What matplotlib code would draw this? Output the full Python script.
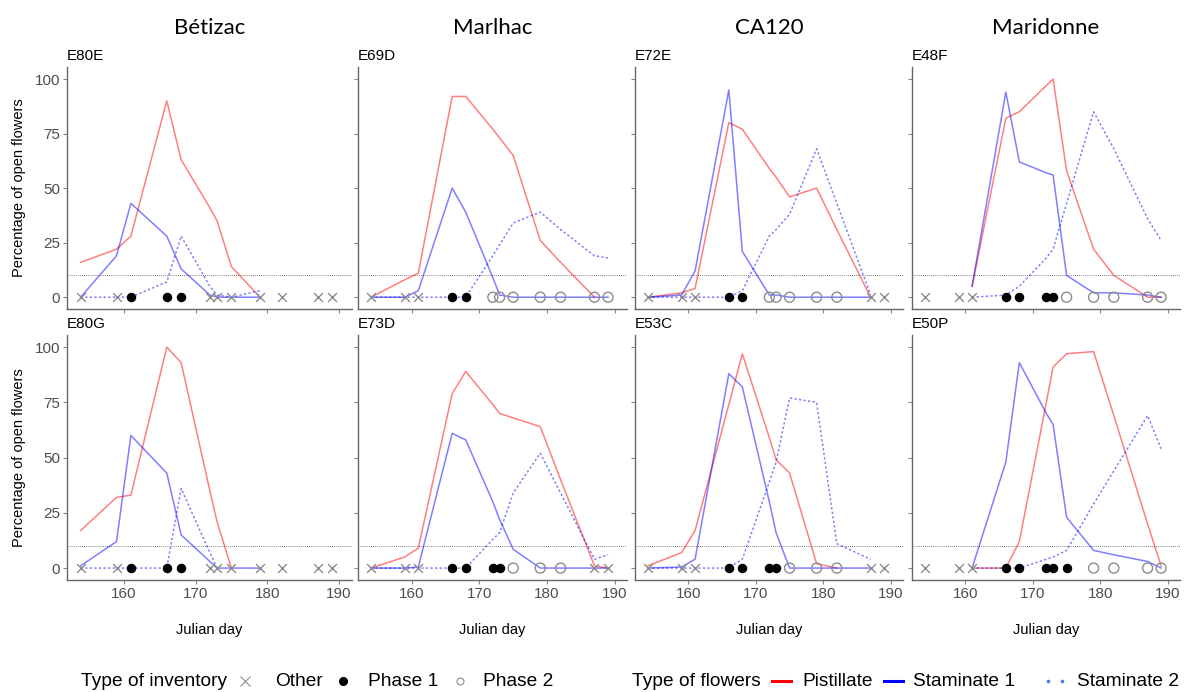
import numpy as np
import matplotlib
matplotlib.use("Agg")
import matplotlib.pyplot as plt
from matplotlib.lines import Line2D

nan = np.nan

days = [154, 159, 161, 166, 168, 172, 173, 175, 179, 182, 187, 189]
cultivars = ["Bétizac", "Marlhac", "CA120", "Maridonne"]
trees_top = ["E80E", "E69D", "E72E", "E48F"]
trees_bottom = ["E80G", "E73D", "E53C", "E50P"]

# inventory type per day: O = other, P1 = phase 1, P2 = phase 2
inv = {
    "E80E": ["O", "O", "P1", "P1", "P1", "O", "O", "O", "O", "O", "O", "O"],
    "E69D": ["O", "O", "O", "P1", "P1", "P2", "P2", "P2", "P2", "P2", "P2", "P2"],
    "E72E": ["O", "O", "O", "P1", "P1", "P2", "P2", "P2", "P2", "P2", "O", "O"],
    "E48F": ["O", "O", "O", "P1", "P1", "P1", "P1", "P2", "P2", "P2", "P2", "P2"],
    "E80G": ["O", "O", "P1", "P1", "P1", "O", "O", "O", "O", "O", "O", "O"],
    "E73D": ["O", "O", "O", "P1", "P1", "P1", "P1", "P2", "P2", "P2", "O", "O"],
    "E53C": ["O", "O", "O", "P1", "P1", "P1", "P1", "P2", "P2", "P2", "O", "O"],
    "E50P": ["O", "O", "O", "P1", "P1", "P1", "P1", "P1", "P2", "P2", "P2", "P2"],
}

pistillate = {
    "E80E": [16, 22, 28, 90, 63, 41, 35, 14, 0, nan, nan, nan],
    "E69D": [0, 8, 11, 92, 92, 77, 73, 65, 26, 16, 0, nan],
    "E72E": [0, 2, 4, 80, 77, 59, 55, 46, 50, 31, 0, nan],
    "E48F": [nan, nan, 5, 82, 85, 97, 100, 58, 22, 10, 0, 0],
    "E80G": [17, 32, 33, 100, 93, 35, 21, 0, nan, nan, nan, nan],
    "E73D": [0, 5, 9, 79, 89, 74, 70, 68, 64, 40, 1, 0],
    "E53C": [1, 7, 17, 74, 97, 59, 49, 43, 2, 0, nan, nan],
    "E50P": [nan, nan, 0, 0, 12, 75, 91, 97, 98, 69, 20, 1],
}

staminate1 = {
    "E80E": [0, 19, 43, 28, 13, 1, 0, 0, 0, nan, nan, nan],
    "E69D": [0, 0, 3, 50, 39, 9, 1, 0, 0, 0, 0, 0],
    "E72E": [0, 1, 12, 95, 21, 1, 1, 0, 0, 0, 0, nan],
    "E48F": [nan, nan, 5, 94, 62, 57, 56, 10, 2, 2, 1, 0],
    "E80G": [1, 12, 60, 43, 15, 3, 0, 0, 0, nan, nan, nan],
    "E73D": [0, 0, 0.5, 61, 58, 30, 22, 8.5, 0, 0, 0, 0],
    "E53C": [0, 0.5, 4, 88, 82, 30, 16, 0, 0, 0, 0, nan],
    "E50P": [nan, nan, 0, 48, 93, 70, 65, 23, 8, 6, 3, 0],
}

staminate2 = {
    "E80E": [0, 0, 0, 7, 28, 5, 1, 0, 3, nan, nan, nan],
    "E69D": [0, 0, 0, 0, 0, 19, 24, 34, 39, 31, 19, 18],
    "E72E": [0, 0, 0, 0, 3, 28, 31, 38, 68, 43, 1, nan],
    "E48F": [nan, nan, 0, 1, 5, 18, 22, 43, 85, 68, 36, 26],
    "E80G": [0, 0, 0, 0, 36, 7, 0, nan, nan, nan, nan, nan],
    "E73D": [0, 0, 0, 0, 0, 13, 16, 34, 52, 34, 4, 6],
    "E53C": [0, 0, 0, 0, 4, 39, 48, 77, 75, 11, 4, nan],
    "E50P": [nan, nan, 0, 0, 0, 4, 5, 8, 29, 44, 69, 54],
}

threshold = 10

inv_labels = ["Other", "Phase 1", "Phase 2"]
flower_labels = ["Pistillate", "Staminate 1", "Staminate 2"]

W, H = 1187, 692
fig = plt.figure(figsize=(W / 100, H / 100), dpi=100)
plt.rcParams["font.family"] = ["Liberation Sans", "DejaVu Sans"]

col_px = [(67, 352), (358, 627), (635, 903), (912, 1180)]
row_px = [(67, 309), (335, 580)]
grey = "#8c8c8c"
tick_col = "#4d4d4d"


def px_axes(x0, x1, y0, y1):
    return fig.add_axes([x0 / W, 1 - y1 / H, (x1 - x0) / W, (y1 - y0) / H])


def draw_panel(ax, tree, first_col, bottom_row):
    x = np.array(days, dtype=float)
    ax.axhline(threshold, color="#555555", lw=0.6, ls=(0, (1, 1.5)), zorder=1)
    p = np.array(pistillate[tree], dtype=float)
    s1 = np.array(staminate1[tree], dtype=float)
    s2 = np.array(staminate2[tree], dtype=float)
    ax.plot(x, p, color="red", alpha=0.5, lw=1.1, zorder=2)
    ax.plot(x, s1, color="blue", alpha=0.5, lw=1.1, zorder=2)
    ax.plot(x, s2, color="blue", alpha=0.5, lw=1.1, ls=(0, (1.5, 1.5)), zorder=2)

    codes = np.array(inv[tree])
    zero = np.zeros(len(days))
    m = codes == "O"
    ax.scatter(x[m], zero[m], marker="x", s=40, color=grey, linewidths=1.0, zorder=4)
    m = codes == "P1"
    ax.scatter(x[m], zero[m], marker="o", s=34, color="black", zorder=4)
    m = codes == "P2"
    ax.scatter(x[m], zero[m], marker="o", s=52, facecolors="none",
               edgecolors=grey, linewidths=1.0, zorder=4)

    ax.set_xlim(152.1, 191.8)
    ax.set_ylim(-5.4, 105.5)
    ax.set_xticks([160, 170, 180, 190])
    ax.set_yticks([0, 25, 50, 75, 100])
    for s in ["top", "right"]:
        ax.spines[s].set_visible(False)
    for s in ["left", "bottom"]:
        ax.spines[s].set_color("#666666")
        ax.spines[s].set_linewidth(1.0)
    ax.tick_params(length=3, color="#888888", labelsize=11, labelcolor=tick_col,
                   labelleft=first_col, labelbottom=bottom_row, pad=2)
    ax.text(0, 1.015, tree, transform=ax.transAxes, fontsize=11, ha="left", va="bottom")
    if first_col:
        ax.set_ylabel("Percentage of open flowers", fontsize=10.5, labelpad=6)
    if bottom_row:
        ax.set_xlabel("Julian day", fontsize=10.5, labelpad=16)


for j, (x0, x1) in enumerate(col_px):
    for i, trees in enumerate([trees_top, trees_bottom]):
        y0, y1 = row_px[i]
        ax = px_axes(x0, x1, y0, y1)
        draw_panel(ax, trees[j], j == 0, i == 1)
    fig.text((x0 + x1) / 2 / W, 1 - 28 / H, cultivars[j], fontsize=16,
             family=["Lato", "DejaVu Sans"], ha="center", va="center")

# legends, laid out by hand along the bottom
ly = 1 - 681 / H
fs = 13.8


def fx(px):
    return px / W


fig.text(fx(81), ly, "Type of inventory", fontsize=fs, va="center", ha="left")
fig.add_artist(Line2D([fx(245)], [ly], ls="none", marker="x", color=grey,
                      markersize=7, mew=0.8))
fig.add_artist(Line2D([fx(343)], [ly], ls="none", marker="o", color="black",
                      markersize=5.5))
fig.add_artist(Line2D([fx(460)], [ly], ls="none", marker="o", mfc="none", mec=grey,
                      markersize=5, mew=0.8))
for xp, lab in zip([275, 368, 483], inv_labels):
    fig.text(fx(xp), ly, lab, fontsize=fs, va="center", ha="left")

fig.text(fx(632), ly, "Type of flowers", fontsize=fs, va="center", ha="left")
fig.add_artist(Line2D([fx(772), fx(791)], [ly, ly], color="red", lw=2.2))
fig.add_artist(Line2D([fx(884), fx(903)], [ly, ly], color="blue", lw=2.2))
fig.add_artist(Line2D([fx(1048), fx(1062)], [ly, ly], ls="none", marker="o",
                      color="#5577ee", markersize=1.6))
for xp, lab in zip([802, 913, 1077], flower_labels):
    fig.text(fx(xp), ly, lab, fontsize=fs, va="center", ha="left")

fig.savefig("out.png", dpi=100)
